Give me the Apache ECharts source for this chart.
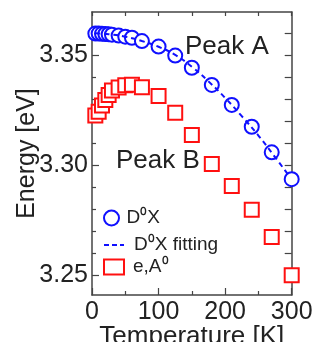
<!DOCTYPE html>
<html><head><meta charset="utf-8">
<script src="https://cdn.jsdelivr.net/npm/echarts@6/dist/echarts.min.js"></script>
<style>html,body{margin:0;padding:0;background:#fff}#c{width:325px;height:342px}</style>
</head><body><div id="c"></div>
<script>
// Data
var tempD0X = [5, 10, 15, 20, 25, 30, 40, 50, 60, 75, 100, 125, 150, 180, 210, 240, 270, 300];
var energyD0X = [3.3597, 3.3597, 3.3596, 3.3595, 3.3594, 3.3592, 3.3588, 3.3583, 3.3578, 3.3563, 3.3538, 3.3497, 3.3442, 3.3364, 3.3273, 3.3174, 3.3058, 3.2936];
var tempFit = [5, 25, 50, 75, 100, 125, 150, 175, 200, 225, 250, 275, 295];
var energyFit = [3.3598, 3.3594, 3.3583, 3.3563, 3.3537, 3.3500, 3.3446, 3.3380, 3.3305, 3.3222, 3.3134, 3.3036, 3.2955];
var tempEA = [5, 10, 15, 20, 25, 30, 40, 50, 60, 75, 100, 125, 150, 180, 210, 240, 270, 300];
var energyEA = [3.3225, 3.3242, 3.3270, 3.3295, 3.3318, 3.3338, 3.3352, 3.3362, 3.3365, 3.3353, 3.3314, 3.3237, 3.3137, 3.3005, 3.2905, 3.2797, 3.2673, 3.2500];
var yMajorTicks = [3.25, 3.30, 3.35];
var yMinorTicks = [3.26, 3.27, 3.28, 3.29, 3.31, 3.32, 3.33, 3.34, 3.36];
var yAllTicks = [3.25, 3.26, 3.27, 3.28, 3.29, 3.30, 3.31, 3.32, 3.33, 3.34, 3.35, 3.36];
var xLabels = [0, 100, 200, 300];
var seriesNames = ['D\u2070X', 'D\u2070X fitting', 'e,A\u2070'];

function pairs(xs, ys) { return xs.map(function (x, i) { return [x, ys[i]]; }); }

var FONT = 'Liberation Sans';
var TXT = '#222';
var AX = '#444';
var BLUE = '#1010ff';
var RED = '#ff1010';

var chart = echarts.init(document.getElementById('c'), null, {renderer: 'canvas'});
var yBase = {
  type: 'value', min: 3.241, max: 3.3695, scale: true,
  splitLine: {show: false}
};
chart.setOption({
  animation: false,
  backgroundColor: '#fff',
  grid: {left: 92, right: 33.3, top: 12, bottom: 47, containLabel: false, outerBoundsMode: 'none'},
  xAxis: [{
    type: 'value', min: 0, max: 300, interval: 100, position: 'bottom',
    name: 'Temperature [K]', nameLocation: 'middle', nameGap: 29, nameMoveOverlap: false,
    nameTextStyle: {fontFamily: FONT, fontSize: 26, color: TXT, verticalAlign: 'top'},
    axisLine: {show: true, lineStyle: {color: AX, width: 1.5}},
    axisTick: {show: true, inside: true, length: 7, lineStyle: {color: AX, width: 1.2}},
    minorTick: {show: true, splitNumber: 2, length: 4, lineStyle: {color: AX, width: 1.2}},
    axisLabel: {fontFamily: FONT, fontSize: 25, color: TXT, margin: 5, customValues: xLabels},
    splitLine: {show: false}
  }, {
    type: 'value', min: 0, max: 300, interval: 50, position: 'top',
    axisLine: {show: true, lineStyle: {color: AX, width: 1.5}},
    axisTick: {show: true, inside: true, length: 4, lineStyle: {color: AX, width: 1.2}},
    axisLabel: {show: false}, splitLine: {show: false}
  }],
  yAxis: [Object.assign({}, yBase, {
    position: 'left',
    name: 'Energy [eV]', nameLocation: 'middle', nameGap: 52, nameRotate: 90, nameMoveOverlap: false,
    nameTextStyle: {fontFamily: FONT, fontSize: 25, color: TXT},
    axisLine: {show: true, lineStyle: {color: AX, width: 1.5}},
    axisTick: {show: true, inside: true, length: 7, customValues: yMajorTicks, lineStyle: {color: AX, width: 1.2}},
    axisLabel: {fontFamily: FONT, fontSize: 25, color: TXT, margin: 4, customValues: yMajorTicks,
      formatter: function (v) { return v.toFixed(2); }}
  }), Object.assign({}, yBase, {
    position: 'left',
    axisLine: {show: false},
    axisTick: {show: true, inside: true, length: 4, customValues: yMinorTicks, lineStyle: {color: AX, width: 1.2}},
    axisLabel: {show: false}
  }), Object.assign({}, yBase, {
    position: 'right',
    axisLine: {show: true, lineStyle: {color: AX, width: 1.5}},
    axisTick: {show: true, inside: true, length: 7, customValues: yAllTicks, lineStyle: {color: AX, width: 1.2}},
    axisLabel: {show: false}
  })],
  legend: [{
    data: [seriesNames[0]], orient: 'vertical', left: 103, top: 208, padding: 0,
    itemWidth: 20, itemHeight: 15, selectedMode: false,
    textStyle: {fontFamily: FONT, fontSize: 19, color: TXT, lineHeight: 20}
  }, {
    data: [seriesNames[1]], orient: 'vertical', left: 103, top: 235, padding: 0,
    itemWidth: 20, itemHeight: 15, selectedMode: false,
    itemStyle: {color: 'rgba(0,0,0,0)', borderColor: 'rgba(0,0,0,0)', borderWidth: 0, opacity: 0},
    lineStyle: {type: [5, 3], width: 2, color: BLUE, opacity: 1},
    textStyle: {fontFamily: FONT, fontSize: 19, color: TXT, lineHeight: 20, padding: [0, 0, 0, 5]}
  }, {
    data: [seriesNames[2]], orient: 'vertical', left: 103, top: 257, padding: 0,
    itemWidth: 20, itemHeight: 15, selectedMode: false,
    textStyle: {fontFamily: FONT, fontSize: 19, color: TXT, lineHeight: 20, padding: [0, 0, 0, 4]}
  }],
  graphic: [
    {type: 'text', left: 185, top: 34, style: {text: 'Peak A', fontFamily: FONT, fontSize: 26, fill: TXT, lineHeight: 26}},
    {type: 'text', left: 116, top: 148, style: {text: 'Peak B', fontFamily: FONT, fontSize: 26, fill: TXT, lineHeight: 26}}
  ],
  series: [{
    name: seriesNames[0], type: 'scatter', data: pairs(tempD0X, energyD0X),
    symbol: 'circle', symbolSize: 14, clip: false, z: 3,
    itemStyle: {color: '#fff', borderColor: BLUE, borderWidth: 2, opacity: 1}
  }, {
    name: seriesNames[2], type: 'scatter', data: pairs(tempEA, energyEA),
    symbol: 'rect', symbolSize: 14, clip: false, z: 3,
    itemStyle: {color: '#fff', borderColor: RED, borderWidth: 2, opacity: 1}
  }, {
    name: seriesNames[1], type: 'line', data: pairs(tempFit, energyFit),
    smooth: true, symbol: 'none', showSymbol: false, clip: false, z: 4,
    lineStyle: {color: BLUE, width: 2, type: [5, 4]},
    itemStyle: {color: BLUE}
  }]
});
</script></body></html>
